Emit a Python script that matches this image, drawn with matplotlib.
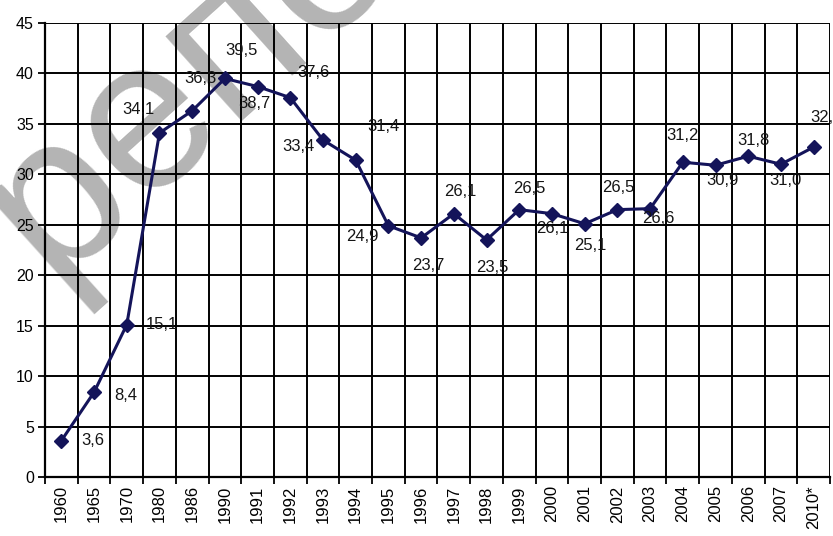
import matplotlib
matplotlib.use("Agg")
import matplotlib.pyplot as plt

years = ["1960", "1965", "1970", "1980", "1986", "1990", "1991", "1992",
         "1993", "1994", "1995", "1996", "1997", "1998", "1999", "2000",
         "2001", "2002", "2003", "2004", "2005", "2006", "2007", "2010*"]
values = [3.6, 8.4, 15.1, 34.1, 36.3, 39.5, 38.7, 37.6, 33.4, 31.4, 24.9,
          23.7, 26.1, 23.5, 26.5, 26.1, 25.1, 26.5, 26.6, 31.2, 30.9, 31.8,
          31.0, 32.7]

# label offsets in points (dx, dy) relative to each point
offsets = [(23, 0), (23, -2), (25, 0), (-15, 17), (6, 23), (12, 20),
           (-2, -12), (17, 18), (-18, -5), (20, 24), (-19, -8), (5, -20),
           (5, 16), (4, -20), (7, 15), (0, -11), (4, -16), (1, 16),
           (6, -7), (0, 19), (5, -11), (4, 11), (3, -12), (9, 21)]

plt.rcParams['font.family'] = ['Liberation Sans', 'DejaVu Sans']

fig = plt.figure(figsize=(8.33, 5.36), dpi=100)
ax = fig.add_axes([45 / 833, 59 / 536, 785 / 833, 454 / 536])
ax.set_facecolor('none')

x = list(range(len(years)))
ax.plot(x, values, color='#14145a', lw=2.2, marker='D', ms=7,
        mfc='#14145a', mec='#14145a', zorder=3, clip_on=False)

for xi, v, (dx, dy) in zip(x, values, offsets):
    ax.annotate(f"{v:.1f}".replace('.', ','), (xi, v), xytext=(dx, dy),
                textcoords='offset points', ha='center', va='center',
                fontsize=12, color='#151515', zorder=4,
                annotation_clip=False)

ax.set_xlim(-0.5, len(years) - 0.5)
ax.set_ylim(0, 45)
ax.set_yticks(range(0, 46, 5))

# year labels sit on minor ticks, grid lines on major ticks at the boundaries
ax.set_xticks(x, minor=True)
ax.set_xticklabels(years, minor=True)
ax.set_xticks([i - 0.5 for i in range(len(years) + 1)])
ax.set_xticklabels([])
ax.tick_params(axis='x', which='minor', length=0, pad=6, labelrotation=90,
               labelsize=12)
ax.tick_params(axis='x', which='major', length=5, width=1.3, direction='out')
ax.tick_params(axis='y', length=5, width=1.3, labelsize=11.5, pad=3)

ax.grid(True, which='major', color='black', lw=1.4)
for s in ax.spines.values():
    s.set_visible(False)
ax.spines['left'].set_visible(True)
ax.spines['bottom'].set_visible(True)
ax.spines['left'].set_linewidth(1.6)
ax.spines['bottom'].set_linewidth(1.6)

# watermark
fig.text(50 / 833, 1 - 282 / 536, "репо", fontsize=155, color='#b4b4b4',
         rotation=42, ha='left', va='baseline', rotation_mode='anchor',
         family='Liberation Sans', zorder=-1)

fig.savefig("out.png", dpi=100)
